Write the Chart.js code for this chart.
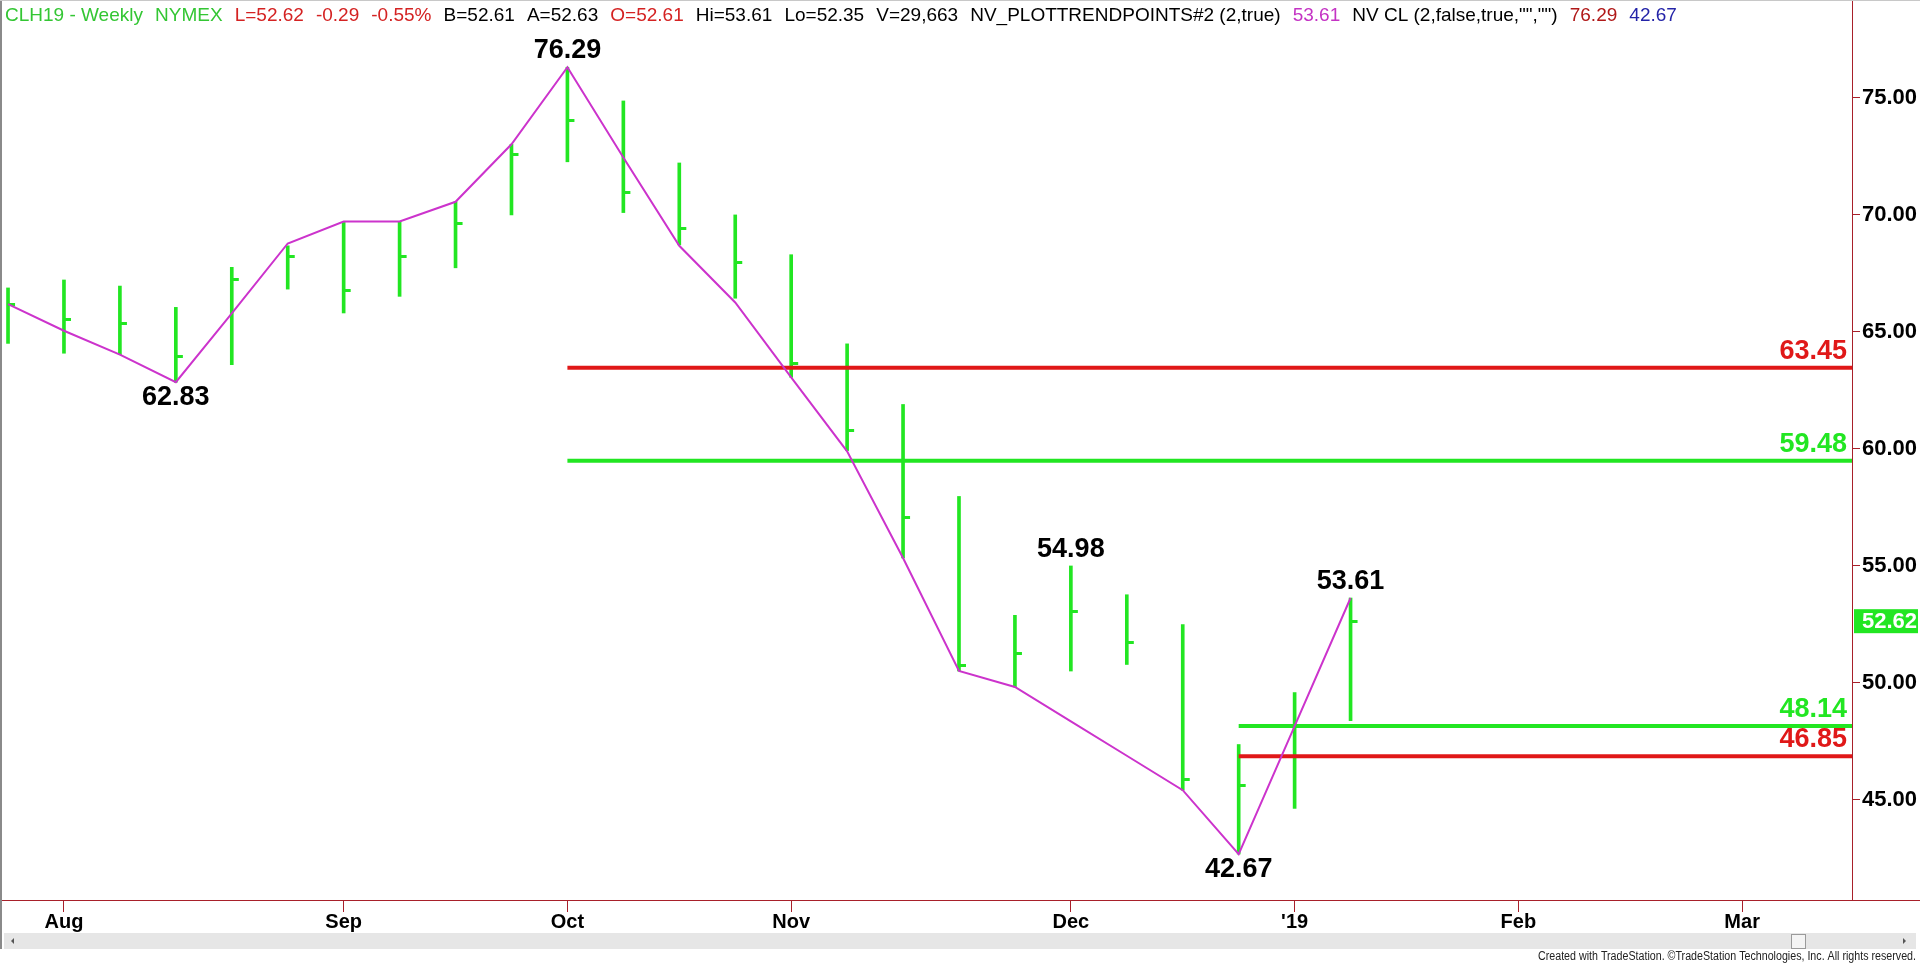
<!DOCTYPE html>
<html>
<head>
<meta charset="utf-8">
<script src="https://cdn.jsdelivr.net/npm/chart.js@4.4.0/dist/chart.umd.min.js"></script>
<style>
html, body { margin: 0; padding: 0; background: #fff; overflow: hidden; }
#wrap { width: 1920px; height: 964px; }
</style>
</head>
<body>
<div id="wrap"><canvas id="myChart" width="1920" height="964"></canvas></div>
<script>
// weekly bars, CLH19
var weeks = ['Jul 27','Aug 3','Aug 10','Aug 17','Aug 24','Aug 31','Sep 7','Sep 14','Sep 21','Sep 28',
             'Oct 5','Oct 12','Oct 19','Oct 26','Nov 2','Nov 9','Nov 16','Nov 23','Nov 30','Dec 7',
             'Dec 14','Dec 21','Dec 28','Jan 4','Jan 11'];
var highs  = [66.86, 67.20, 66.94, 66.03, 67.74, 68.66, 69.66, 69.70, 70.55, 73.00,
              76.29, 74.85, 72.20, 69.98, 68.28, 64.47, 61.88, 57.95, 52.87, 54.98,
              53.75, 52.47, 47.35, 49.57, 53.61];
var lows   = [64.49, 64.07, 64.01, 62.83, 63.58, 66.81, 65.79, 66.50, 67.72, 69.98,
              72.25, 70.08, 68.70, 66.42, 63.04, 59.91, 55.32, 50.49, 49.81, 50.49,
              50.77, 45.40, 42.67, 44.62, 48.37];
var closes = [66.15, 65.50, 65.32, 63.92, 67.20, 68.19, 66.74, 68.19, 69.62, 72.55,
              74.00, 70.95, 69.42, 67.94, 63.61, 60.77, 57.04, 50.74, 51.26, 53.04,
              51.73, 45.86, 45.62, 48.13, 52.62];
// NV_PLOTTRENDPOINTS line
var trend  = [66.17, 65.03, 64.01, 62.83, 65.77, 68.76, 69.70, 69.70, 70.54, 73.00,
              76.29, 72.43, 68.66, 66.24, 63.04, 59.88, 55.32, 50.49, 49.81, 48.34,
              46.87, 45.40, 42.67, 48.14, 53.61];

// pivots that get a price label
var pivotBars  = [3, 10, 19, 22, 24];
var pivotBelow = [true, false, false, true, false];

// NV CL levels
var levels     = [63.45, 59.48, 48.14, 46.85];
var levelStart = [10, 10, 22, 22];
var levelColors = ['#e01818', '#22e622', '#22e622', '#e01818'];

var monthTicks  = [1, 6, 10, 14, 19, 23, 27, 31];
var monthLabels = ['Aug', 'Sep', 'Oct', 'Nov', 'Dec', "'19", 'Feb', 'Mar'];
var priceTicks  = [45, 50, 55, 60, 65, 70, 75];

var xMin = -0.054, xMax = 32.964;
var yMin = 40.706, yMax = 78.95;

var barGreen = '#22e622';
var axisRed = '#a8202a';

// header status line
var header = [
    ['CLH19 - Weekly', '#33c633'], ['NYMEX', '#33c633'],
    ['L=52.62', '#d42222'], ['-0.29', '#d42222'], ['-0.55%', '#d42222'],
    ['B=52.61', '#000'], ['A=52.63', '#000'], ['O=52.61', '#d42222'],
    ['Hi=53.61', '#000'], ['Lo=52.35', '#000'], ['V=29,663', '#000'],
    ['NV_PLOTTRENDPOINTS#2 (2,true)', '#000'], ['53.61', '#c433c4'],
    ['NV CL (2,false,true,"","")', '#000'], ['76.29', '#b01818'], ['42.67', '#2424a8']
];

// little close tick to the right of each bar
var tickImg = document.createElement('canvas');
tickImg.width = 16;
tickImg.height = 3;
var tctx = tickImg.getContext('2d');
tctx.fillStyle = barGreen;
tctx.fillRect(8, 0, 7, 3);

var datasets = [];
datasets.push({
    type: 'line',
    data: trend.map(function(v, i) { return {x: i, y: v}; }),
    borderColor: '#cc33cc',
    borderWidth: 2,
    pointRadius: 0,
    tension: 0
});
for (var k = 0; k < levels.length; k++) {
    datasets.push({
        type: 'line',
        data: [{x: levelStart[k], y: levels[k]}, {x: xMax, y: levels[k]}],
        borderColor: levelColors[k],
        borderWidth: 4,
        pointRadius: 0
    });
}
datasets.push({
    type: 'line',
    showLine: false,
    data: closes.map(function(v, i) { return {x: i, y: v}; }),
    pointStyle: tickImg,
    pointRadius: 3
});
datasets.push({
    type: 'bar',
    data: highs.map(function(v, i) { return {x: i, y: [lows[i], v]}; }),
    backgroundColor: barGreen,
    barThickness: 3,
    grouped: false
});

var extras = {
    id: 'extras',
    afterDraw: function(chart) {
        var ctx = chart.ctx;
        var xs = chart.scales.x, ys = chart.scales.y;
        var area = chart.chartArea;
        ctx.save();

        // pivot labels
        ctx.font = 'bold 27px "Liberation Sans", Arial, sans-serif';
        ctx.fillStyle = '#000';
        ctx.textAlign = 'center';
        pivotBars.forEach(function(b, n) {
            var px = xs.getPixelForValue(b);
            if (pivotBelow[n]) {
                ctx.textBaseline = 'top';
                ctx.fillText(lows[b].toFixed(2), px, ys.getPixelForValue(lows[b]) + 2);
            } else {
                ctx.textBaseline = 'alphabetic';
                ctx.fillText(highs[b].toFixed(2), px, ys.getPixelForValue(highs[b]) - 9);
            }
        });

        // level labels
        ctx.textAlign = 'right';
        ctx.textBaseline = 'alphabetic';
        levels.forEach(function(v, k) {
            ctx.fillStyle = levelColors[k];
            ctx.fillText(v.toFixed(2), area.right - 5, ys.getPixelForValue(v) - 9);
        });

        // last price box on the axis
        var last = closes[closes.length - 1];
        var ly = ys.getPixelForValue(last);
        ctx.fillStyle = barGreen;
        ctx.fillRect(area.right + 2, ly - 12, 64, 24);
        ctx.fillStyle = '#fff';
        ctx.font = 'bold 22px "Liberation Sans", Arial, sans-serif';
        ctx.textAlign = 'left';
        ctx.textBaseline = 'middle';
        ctx.fillText(last.toFixed(2), area.right + 10, ly + 1);

        // header, items two spaces apart
        ctx.font = '19px "Liberation Sans", Arial, sans-serif';
        ctx.textBaseline = 'alphabetic';
        var gap = ctx.measureText('  ').width + 1.5;
        var hx = 5;
        header.forEach(function(h) {
            ctx.fillStyle = h[1];
            ctx.fillText(h[0], hx, 21);
            hx += ctx.measureText(h[0]).width + gap;
        });

        // x axis line runs the full width
        ctx.strokeStyle = axisRed;
        ctx.lineWidth = 1;
        ctx.beginPath();
        ctx.moveTo(0, area.bottom + 0.5);
        ctx.lineTo(1920, area.bottom + 0.5);
        ctx.moveTo(area.right + 0.5, 0);
        ctx.lineTo(area.right + 0.5, area.top);
        ctx.stroke();

        // scrollbar
        ctx.fillStyle = '#e6e6e6';
        ctx.fillRect(4, 933, 1912, 16);
        ctx.fillStyle = '#f4f4f4';
        ctx.fillRect(1791, 934, 14, 14);
        ctx.strokeStyle = '#9a9a9a';
        ctx.strokeRect(1791.5, 934.5, 14, 14);
        ctx.fillStyle = '#555';
        ctx.beginPath();
        ctx.moveTo(11, 941); ctx.lineTo(14, 938); ctx.lineTo(14, 944); ctx.fill();
        ctx.beginPath();
        ctx.moveTo(1906, 941); ctx.lineTo(1903, 938); ctx.lineTo(1903, 944); ctx.fill();

        // borders
        ctx.fillStyle = '#8a8a8a';
        ctx.fillRect(0, 0, 2, 949);
        ctx.fillStyle = '#c8c8c8';
        ctx.fillRect(0, 0, 1920, 1);

        // credit line
        ctx.fillStyle = '#222';
        ctx.font = '12px "Liberation Sans Narrow", "Liberation Sans", Arial, sans-serif';
        ctx.textAlign = 'right';
        ctx.textBaseline = 'middle';
        ctx.fillText('Created with TradeStation. \u00A9TradeStation Technologies, Inc. All rights reserved.', 1916, 957, 378);
        ctx.restore();
    }
};

var ctx = document.getElementById('myChart').getContext('2d');
var myChart = new Chart(ctx, {
    type: 'line',
    data: { datasets: datasets },
    options: {
        responsive: false,
        animation: false,
        devicePixelRatio: 1,
        events: [],
        layout: { padding: { left: 3, top: 0, right: 0, bottom: 0 } },
        plugins: { legend: { display: false }, tooltip: { enabled: false } },
        scales: {
            x: {
                type: 'linear',
                min: xMin,
                max: xMax,
                offset: false,
                afterBuildTicks: function(scale) {
                    scale.ticks = monthTicks.map(function(v) { return {value: v}; });
                },
                afterFit: function(scale) {
                    scale.height = 64;
                    scale.paddingLeft = 0;
                    scale.paddingRight = 0;
                },
                ticks: {
                    autoSkip: false,
                    maxRotation: 0,
                    padding: -2,
                    color: '#000',
                    font: { family: '"Liberation Sans", Arial, sans-serif', size: 20, weight: 'bold' },
                    callback: function(v) { return monthLabels[monthTicks.indexOf(v)]; }
                },
                grid: { drawOnChartArea: false, drawTicks: true, tickLength: 12, color: axisRed, offset: false },
                border: { color: axisRed, width: 1 }
            },
            y: {
                type: 'linear',
                position: 'right',
                min: yMin,
                max: yMax,
                afterBuildTicks: function(scale) {
                    scale.ticks = priceTicks.map(function(v) { return {value: v}; });
                },
                afterFit: function(scale) {
                    scale.width = 68;
                    scale.paddingTop = 0;
                    scale.paddingBottom = 0;
                },
                ticks: {
                    padding: 2,
                    color: '#000',
                    font: { family: '"Liberation Sans", Arial, sans-serif', size: 22, weight: 'bold' },
                    callback: function(v) { return v.toFixed(2); }
                },
                grid: { drawOnChartArea: false, drawTicks: true, tickLength: 8, color: axisRed },
                border: { color: axisRed, width: 1 }
            }
        }
    },
    plugins: [extras]
});
</script>
</body>
</html>
